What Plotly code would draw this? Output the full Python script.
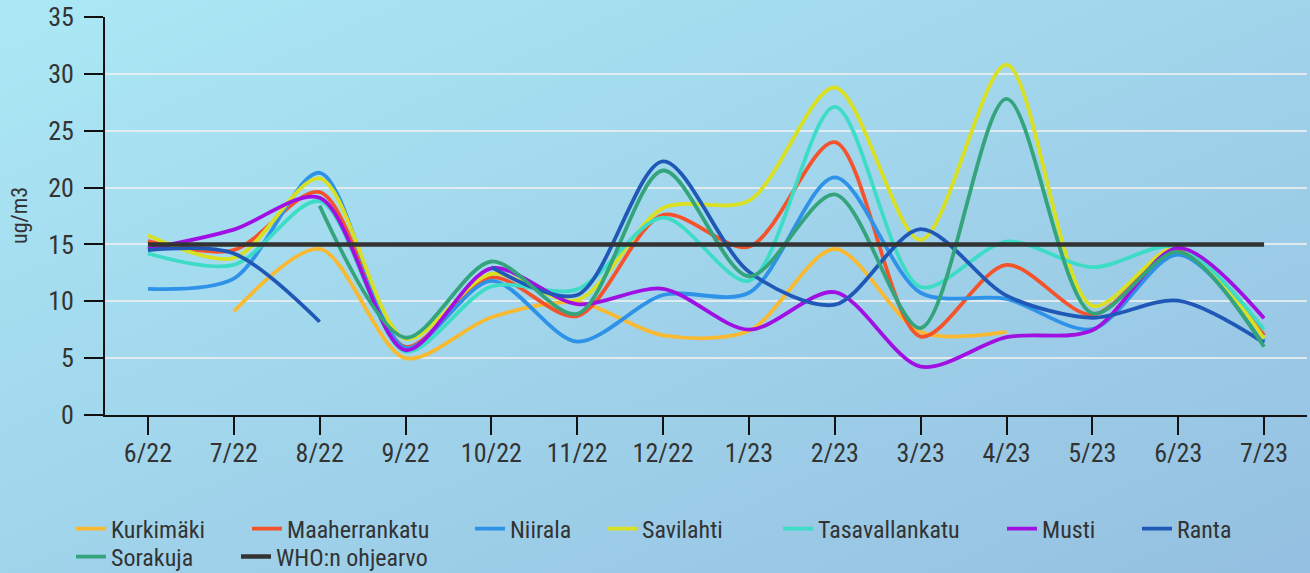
import base64
import plotly.graph_objects as go

months = ["6/22", "7/22", "8/22", "9/22", "10/22", "11/22", "12/22",
          "1/23", "2/23", "3/23", "4/23", "5/23", "6/23", "7/23"]

kurkimaki = [None, 9.1, 14.6, 5.0, 8.6, 9.9, 7.0, 7.4, 14.6, 7.3, 7.3, None, None, None]
maaherrankatu = [15.3, 14.5, 19.6, 6.0, 12.1, 8.7, 17.6, 14.8, 24.0, 6.9, 13.2, 8.8, 14.5, 7.0]
niirala = [11.1, 12.0, 21.3, 5.9, 11.8, 6.45, 10.55, 10.75, 20.9, 10.75, 10.2, 7.55, 14.1, 6.5]
savilahti = [15.8, 13.8, 20.8, 6.7, 12.4, 10.1, 18.2, 18.85, 28.8, 15.4, 30.8, 9.6, 14.8, 6.7]
tasavallankatu = [14.2, 13.2, 18.8, 5.6, 11.3, 11.05, 17.35, 11.8, 27.1, 11.25, 15.25, 13.0, 14.8, 7.5]
musti = [14.6, 16.3, 19.1, 5.7, 12.9, 9.75, 11.1, 7.5, 10.8, 4.25, 6.85, 7.45, 14.7, 8.5]
ranta = [14.5, 14.2, 8.2, None, 13.0, 10.55, 22.3, 12.6, 9.7, 16.35, 10.5, 8.55, 10.05, 6.35]
sorakuja = [None, None, 18.4, 6.8, 13.5, 8.9, 21.5, 12.2, 19.4, 7.65, 27.8, 8.95, 14.35, 6.0]
who = [15, 15, 15, 15, 15, 15, 15, 15, 15, 15, 15, 15, 15, 15]

series = [
    ("Kurkimäki", kurkimaki, "#f9b931"),
    ("Maaherrankatu", maaherrankatu, "#f5532c"),
    ("Niirala", niirala, "#2e92e8"),
    ("Savilahti", savilahti, "#d9e024"),
    ("Tasavallankatu", tasavallankatu, "#3ddcc6"),
    ("Musti", musti, "#a110e3"),
    ("Ranta", ranta, "#1f58b6"),
    ("Sorakuja", sorakuja, "#33a47c"),
]

FONT = "Roboto Condensed, Liberation Sans Narrow, Roboto, sans-serif"
TXT = "#333333"

# legend text start (px) and row center (px)
leg_pos = [(112, 529), (288, 529), (511, 529), (643, 529), (819, 529), (1043, 529),
           (1178, 529), (112, 557), (277, 557)]
W, H = 1310, 573
L, R, T, B = 105, 3, 17, 158
PW, PH = W - L - R, H - T - B

fig = go.Figure()
for i, (name, vals, col) in enumerate(series):
    lname = "legend" if i == 0 else f"legend{i+1}"
    fig.add_trace(go.Scatter(x=months, y=vals, name=name, mode="lines",
                             line=dict(color=col, width=3.8, shape="spline", smoothing=0.85),
                             connectgaps=False, legend=lname, hoverinfo="x+y+name"))
fig.add_trace(go.Scatter(x=months, y=who, name="WHO:n ohjearvo", mode="lines",
                         line=dict(color="#333333", width=4.5), legend="legend9"))

legends = {}
for i, (px, py) in enumerate(leg_pos):
    key = "legend" if i == 0 else f"legend{i+1}"
    legends[key] = dict(x=(px - 41) / W, y=1 - py / H, xref="container", yref="container",
                        xanchor="left", yanchor="middle", bgcolor="rgba(0,0,0,0)",
                        font=dict(family=FONT, size=24, color=TXT), itemwidth=30,
                        borderwidth=0, tracegroupgap=0)

svg = f'''<svg xmlns="http://www.w3.org/2000/svg" width="{W}" height="{H}">
<defs><linearGradient id="g" x1="0" y1="0" x2="1" y2="1">
<stop offset="0" stop-color="#abe8f5"/><stop offset="1" stop-color="#95c0e1"/>
</linearGradient></defs><rect width="{W}" height="{H}" fill="url(#g)"/></svg>'''
src = "data:image/svg+xml;base64," + base64.b64encode(svg.encode()).decode()

fig.update_layout(
    width=W, height=H,
    margin=dict(l=L, r=R, t=T, b=B, autoexpand=False),
    paper_bgcolor="#a2d6ec", plot_bgcolor="rgba(0,0,0,0)",
    font=dict(family=FONT, color=TXT),
    showlegend=True,
    images=[dict(source=src, xref="paper", yref="paper", x=-L / PW, y=1 + T / PH,
                 sizex=W / PW, sizey=H / PH, sizing="stretch", layer="below",
                 xanchor="left", yanchor="top")],
    annotations=[dict(text="ug/m3", xref="paper", yref="paper", x=(19 - L) / PW, y=0.5,
                      textangle=-90, showarrow=False, xanchor="center", yanchor="middle",
                      font=dict(family=FONT, size=22, color=TXT))],
    **legends,
)
fig.update_xaxes(type="category", range=[-0.5, 13.5], showgrid=False,
                 showline=True, linecolor="#111111", linewidth=2,
                 ticks="outside", ticklen=18, tickwidth=2, tickcolor="#111111",
                 tickfont=dict(family=FONT, size=26, color=TXT), zeroline=False,
                 tickangle=0, ticklabelstandoff=-4)
fig.update_yaxes(range=[0, 35], dtick=5, tick0=0, showgrid=True,
                 gridcolor="rgba(235,238,240,0.85)", gridwidth=2,
                 showline=True, linecolor="#111111", linewidth=2,
                 ticks="outside", ticklen=19, tickwidth=2, tickcolor="#111111",
                 tickfont=dict(family=FONT, size=26, color=TXT), zeroline=False,
                 ticklabelstandoff=5)

fig.write_html("out.html", config={"displayModeBar": False},
               post_script="document.body.style.margin='0';document.body.style.overflow='hidden';")
